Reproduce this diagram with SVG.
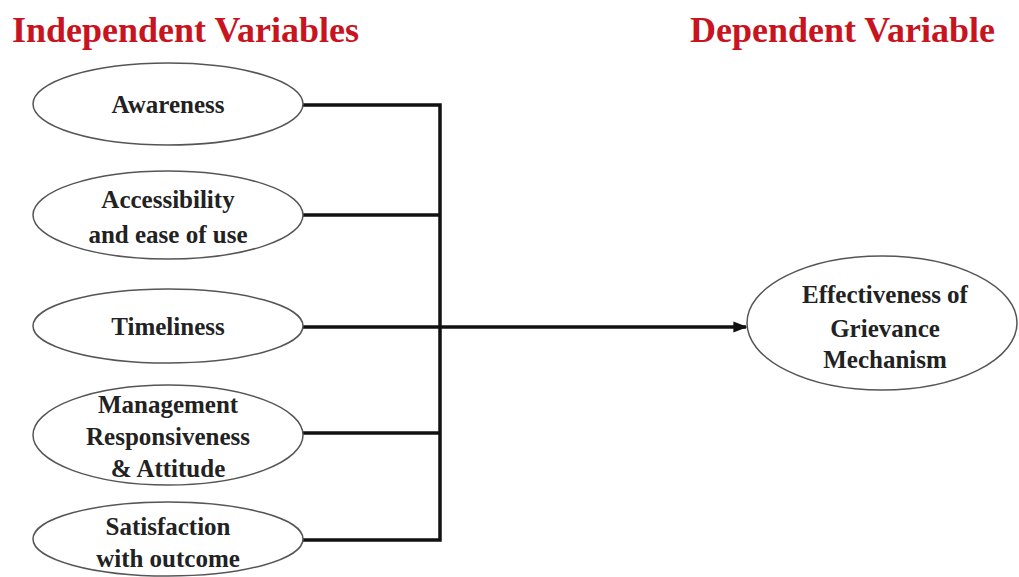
<svg xmlns="http://www.w3.org/2000/svg" width="1019" height="577" viewBox="0 0 1019 577">
<defs>
<style>
.title{font-family:"Liberation Serif","Times New Roman",serif;font-weight:bold;font-size:36px;fill:#c8141e}
.node ellipse{fill:#fff;stroke:#555;stroke-width:1.5}
.node text{font-family:"Liberation Serif","Times New Roman",serif;font-weight:bold;font-size:25px;fill:#222;text-anchor:middle}
.conn{fill:none;stroke:#111;stroke-width:3.5}
</style>
<marker id="ah" viewBox="0 0 10 10" refX="9" refY="5" markerWidth="4" markerHeight="4" orient="auto" markerUnits="strokeWidth">
<path d="M0,1 L10,5 L0,9 Z" fill="#111"/>
</marker>
</defs>
<rect width="1019" height="577" fill="#fff"/>
<text class="title" x="12" y="42">Independent Variables</text>
<text class="title" x="690" y="42">Dependent Variable</text>
<g id="connectors">
<path class="conn" d="M303,105 H440 V540 H303"/>
<path class="conn" d="M303,215 H440"/>
<path class="conn" d="M303,433 H440"/>
<path class="conn" d="M303,327 H746" marker-end="url(#ah)"/>
</g>
<g id="awareness" class="node">
<ellipse cx="168" cy="104" rx="135" ry="41"/>
<text x="168" y="113">Awareness</text>
</g>
<g id="accessibility" class="node">
<ellipse cx="168" cy="215" rx="135" ry="44"/>
<text x="168" y="208">Accessibility</text>
<text x="168" y="243">and ease of use</text>
</g>
<g id="timeliness" class="node">
<ellipse cx="168" cy="326" rx="135" ry="37"/>
<text x="168" y="335">Timeliness</text>
</g>
<g id="management" class="node">
<ellipse cx="168" cy="435" rx="135" ry="50"/>
<text x="168" y="413">Management</text>
<text x="168" y="445">Responsiveness</text>
<text x="168" y="477">&amp; Attitude</text>
</g>
<g id="satisfaction" class="node">
<ellipse cx="168" cy="539" rx="135" ry="37"/>
<text x="168" y="535">Satisfaction</text>
<text x="168" y="567">with outcome</text>
</g>
<g id="effectiveness" class="node">
<ellipse cx="882" cy="323" rx="135" ry="67"/>
<text x="885" y="303">Effectiveness of</text>
<text x="885" y="337">Grievance</text>
<text x="885" y="368">Mechanism</text>
</g>
</svg>
